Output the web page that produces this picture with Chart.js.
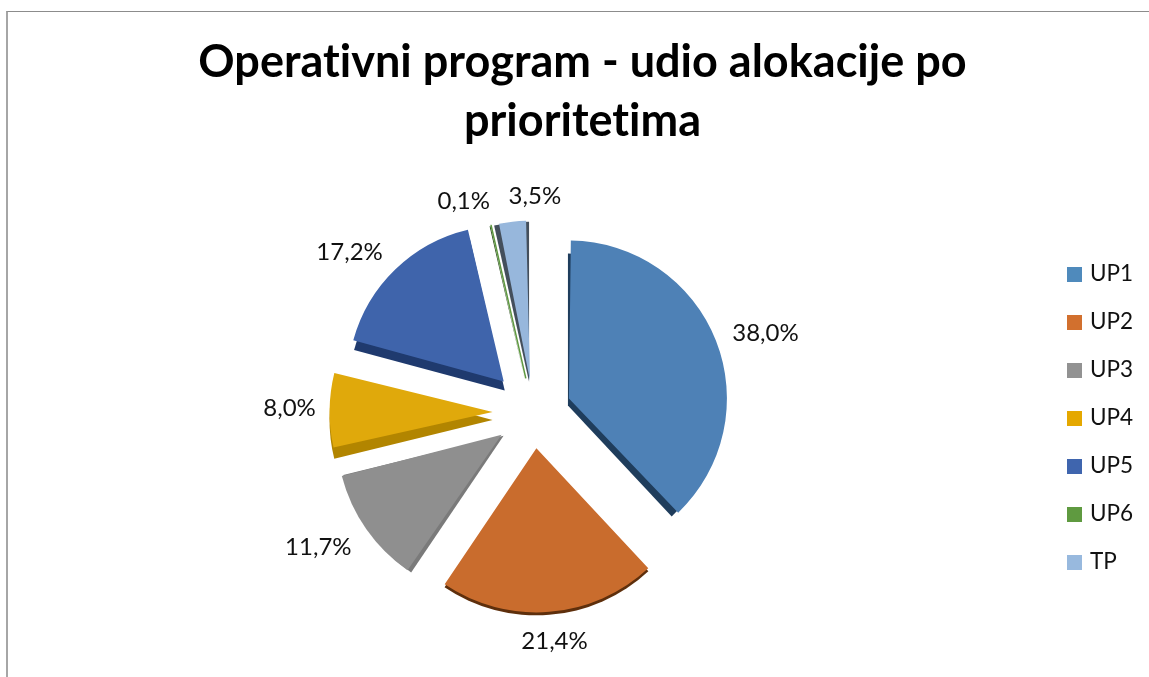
<!DOCTYPE html>
<html>
<head>
<meta charset="utf-8">
<title>Operativni program</title>
<script src="https://cdn.jsdelivr.net/npm/chart.js@4/dist/chart.umd.min.js"></script>
<style>
  html, body { margin: 0; background: #fff; overflow: hidden; }
  #frame { position: absolute; left: 6px; top: 11px; width: 1143px; height: 666px; box-sizing: border-box;
           border-top: 1px solid #8c8c8c; border-left: 2px solid #a6a6a6; }
  #wrap { position: absolute; left: 22px; top: 0; width: 1121px; height: 677px; }
</style>
</head>
<body>
<div id="frame"></div>
<div id="wrap"><canvas id="myChart"></canvas></div>
<script>
var categories = ["UP1", "UP2", "UP3", "UP4", "UP5", "UP6", "TP"];
var shares = [38.0, 21.4, 11.7, 8.0, 17.2, 0.1, 3.5];
var titleLines = ["Operativni program - udio alokacije po", "prioritetima"];
var sliceColors = ["#4e81b6", "#c96c2d", "#8f8f8f", "#e0a90b", "#3f64ab", "#5f9940", "#97b7dc"];
var legendColors = ["#4f8abc", "#d2702e", "#929292", "#e5a800", "#3f65ae", "#5f9a40", "#98b9de"];
var sideColors = ["#1f3d5c", "#5e2f0c", "#7a7a7a", "#b28500", "#1f3a6e", "#2a4a1c", "#444f5c"];
// the original is a tilted 3D pie, so slices differ a bit in reach and explosion
var sliceOffsets = [152, 144, 156, 164, 172, 140, 128];
var sliceRadius = [158, 164, 165, 163, 156, 157, 160];
var sliceBorders = [0, 0, 0, 0, 0, 1.5, 0];
var sideShift = [[-1, 7], [0, 3], [2, 1], [0, 8], [1, 9], [-1, 1], [-1, 1]];
var sideTrim = [6, 0, 0, 0, 0, 0, 0];
var labelNudge = [[31, 0], [4, 13], [-38, 11], [-28, -2], [-34, -5], [-22, -1], [25, -2]];

// legend swatches as little canvases, the built-in gap to the text is too wide otherwise
function swatch(color) {
    var c = document.createElement('canvas');
    c.width = 15;
    c.height = 15;
    var g = c.getContext('2d');
    g.fillStyle = color;
    g.fillRect(0, 0, 15, 15);
    return c;
}

// extruded edge under each slice and the percent labels round the pie
var pie3d = {
    id: 'pie3d',
    beforeDraw: function (chart) {
        // stops Lato joining "ti" into a ligature
        chart.ctx.letterSpacing = '0.01px';
    },
    afterDatasetUpdate: function (chart) {
        chart.getDatasetMeta(0).data.forEach(function (arc, i) {
            // Chart.js grows narrow slices by offset * fix when it draws them, take that back out
            var fix = 1 - Math.sin(Math.min(Math.PI, arc.circumference));
            arc.outerRadius = sliceRadius[i] - sliceOffsets[i] / 4 * fix;
        });
    },
    beforeDatasetDraw: function (chart) {
        var ctx = chart.ctx;
        chart.getDatasetMeta(0).data.forEach(function (arc, i) {
            // arc draws itself moved by a quarter of its offset
            var off = (arc.options.offset || 0) / 4;
            var mid = (arc.startAngle + arc.endAngle) / 2;
            var x = arc.x + Math.cos(mid) * off + sideShift[i][0];
            var y = arc.y + Math.sin(mid) * off + sideShift[i][1];
            ctx.save();
            ctx.fillStyle = sideColors[i];
            ctx.beginPath();
            ctx.moveTo(x, y);
            ctx.arc(x, y, sliceRadius[i] - sideTrim[i], arc.startAngle, arc.endAngle);
            ctx.closePath();
            ctx.fill();
            ctx.restore();
        });
    },
    afterDatasetDraw: function (chart) {
        var ctx = chart.ctx;
        ctx.save();
        ctx.font = '24px Lato';
        ctx.fillStyle = '#111';
        ctx.textAlign = 'center';
        ctx.textBaseline = 'middle';
        chart.getDatasetMeta(0).data.forEach(function (arc, i) {
            var mid = (arc.startAngle + arc.endAngle) / 2;
            var x = arc.x + Math.cos(mid) * 216 + labelNudge[i][0];
            var y = arc.y + Math.sin(mid) * 216 + labelNudge[i][1];
            ctx.fillText(shares[i].toFixed(1).replace('.', ',') + '%', x, y);
        });
        ctx.restore();
    }
};

var ctxP = document.getElementById("myChart").getContext('2d');
var myPie = new Chart(ctxP, {
    type: 'pie',
    data: {
        labels: categories,
        datasets: [
            {
                data: shares,
                backgroundColor: sliceColors,
                borderColor: sliceColors,
                borderWidth: sliceBorders,
                offset: sliceOffsets
            }
        ]
    },
    options: {
        responsive: true,
        maintainAspectRatio: false,
        animation: false,
        radius: 162,
        layout: { padding: { bottom: 4 } },
        plugins: {
            tooltip: { enabled: false },
            title: {
                display: true,
                text: titleLines,
                color: '#000',
                font: { family: 'Lato', size: 45, weight: 'bold', lineHeight: 1.333 },
                padding: { top: 32, bottom: 0 }
            },
            legend: {
                position: 'right',
                fullSize: false,
                // empty title only pushes the entries down a little
                title: { display: true, text: '', font: { size: 1 }, padding: 5 },
                labels: {
                    color: '#111',
                    font: { family: 'Lato', size: 22.5 },
                    usePointStyle: true,
                    pointStyleWidth: 8,
                    boxHeight: 15,
                    padding: 25.5,
                    generateLabels: function (chart) {
                        return categories.map(function (c, i) {
                            return { text: c, fontColor: '#111', pointStyle: swatch(legendColors[i]), fillStyle: legendColors[i], lineWidth: 0, index: i };
                        });
                    }
                }
            }
        }
    },
    plugins: [pie3d]
});
</script>
</body>
</html>
